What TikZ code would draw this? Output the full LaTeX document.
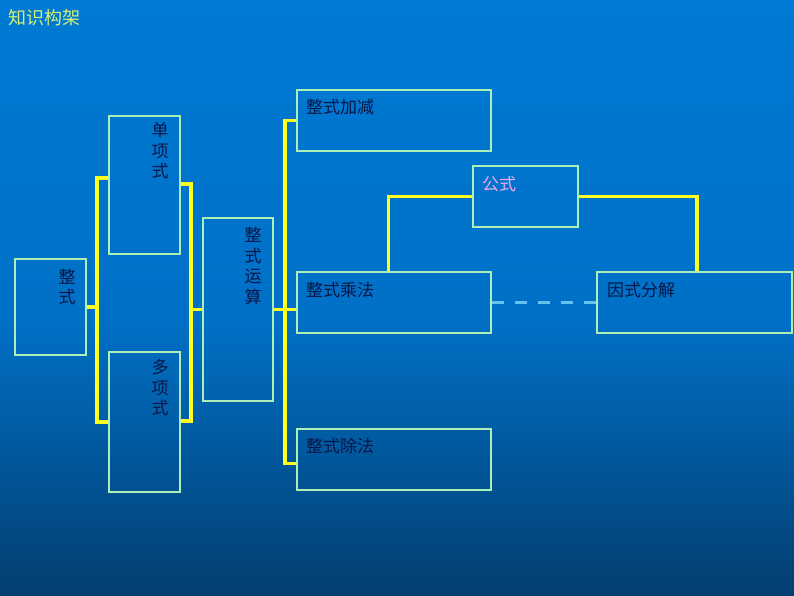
\documentclass[tikz,border=0pt]{standalone}
\usepackage{fontspec}
\newfontfamily\cjk{Noto Sans CJK SC}
\usetikzlibrary{calc}
\definecolor{bgtop}{RGB}{0,122,212}
\definecolor{bgmid}{RGB}{0,112,198}
\definecolor{bgbot}{RGB}{3,62,112}
\definecolor{boxline}{RGB}{172,240,184}
\definecolor{yel}{RGB}{255,255,30}
\definecolor{txt}{RGB}{10,22,70}
\definecolor{titlecol}{RGB}{212,240,120}
\definecolor{pinkt}{RGB}{236,170,240}
\definecolor{dashc}{RGB}{100,196,240}
\begin{document}
\begin{tikzpicture}[x=1pt,y=-1pt,
  bx/.style={draw=boxline,line width=1.4pt,inner sep=0pt},
  yl/.style={draw=yel,line width=3.2pt,line join=miter},
  lab/.style={font=\cjk\fontsize{17}{20.5}\selectfont,text=txt,inner sep=0pt,align=center},
  labl/.style={font=\cjk\fontsize{17}{20.5}\selectfont,text=txt,inner sep=0pt,anchor=west},
  dsh/.style={draw=dashc,line width=3pt,dash pattern=on 12pt off 11pt}]
\useasboundingbox (0,0) rectangle (794,596);
\shade[top color=bgtop,bottom color=bgmid] (0,0) rectangle (794,320.5);
\shade[top color=bgmid,bottom color=bgbot] (0,320) rectangle (794,596);
% boxes
\node[bx,minimum width=71,minimum height=96] (zs) at (50.5,307) {};
\node[bx,minimum width=71,minimum height=138] (dx) at (144.5,185) {};
\node[bx,minimum width=71,minimum height=140] (dxs) at (144.5,422) {};
\node[bx,minimum width=70,minimum height=183] (ys) at (238,309.5) {};
\node[bx,minimum width=194,minimum height=61] (jj) at (394,120.5) {};
\node[bx,minimum width=105,minimum height=61] (gs) at (525.5,196.5) {};
\node[bx,minimum width=194,minimum height=61] (cf) at (394,302.5) {};
\node[bx,minimum width=195,minimum height=61] (yf) at (694.5,302.5) {};
\node[bx,minimum width=194,minimum height=61] (cc) at (394,459.5) {};
% texts
\node[font=\cjk\fontsize{18}{20}\selectfont,text=titlecol,anchor=west,inner sep=0pt] (title) at (8,18) {知识构架};
\node[lab] (tzs) at (67,287) {整\\式};
\node[lab] (tdx) at (160,151) {单\\项\\式};
\node[lab] (tdxs) at (160,388) {多\\项\\式};
\node[lab] (tys) at (253,266) {整\\式\\运\\算};
\node[labl] (tjj) at (306,107) {整式加减};
\node[labl,text=pinkt] (tgs) at (482,184) {公式};
\node[labl] (tcf) at (306,290) {整式乘法};
\node[labl] (tyf) at (607,290) {因式分解};
\node[labl] (tcc) at (306,446) {整式除法};
% connectors
\draw[yl] ($(dx.west)+(0,-7)$) -| (97,308) |- (dxs.west);
\draw[yl] (zs.east) -- (97,307);
\draw[yl] ($(dx.east)+(0,-1)$) -| (191,306) |- ($(dxs.east)+(0,-1)$);
\draw[yl] (ys.west) -- ++(-12,0);
\draw[yl] (jj.west) -| (285,309) |- ($(cc.west)+(0,4)$);
\draw[yl] (ys.east) -- (ys.east -| cf.west);
\draw[yl] ($(cf.north west)+(92,0)$) |- (gs.west);
\draw[yl] (gs.east) -| ($(yf.north)+(2.5,0)$);
\draw[dsh] (cf.east) -- (yf.west);
\end{tikzpicture}
\end{document}
